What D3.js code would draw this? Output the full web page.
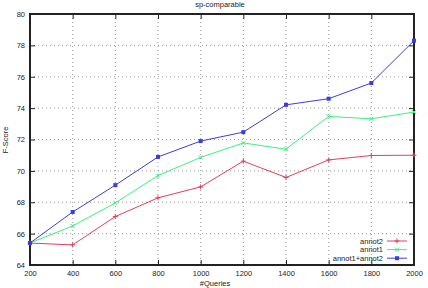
<!DOCTYPE html>
<html><head><meta charset="utf-8">
<script src="https://cdn.jsdelivr.net/npm/d3@7"></script>
<style>
body{margin:0;background:#fff;}
text{font-family:"Liberation Sans",sans-serif;font-size:7.5px;fill:#222;}
</style></head>
<body><svg id="c" width="428" height="288"></svg>
<script>
const queries = [200,400,600,800,1000,1200,1400,1600,1800,2000];
const annot2 = [65.4,65.28,67.09,68.28,68.98,70.62,69.58,70.7,70.98,71.0];
const annot1 = [65.4,66.49,67.96,69.7,70.86,71.78,71.38,73.47,73.32,73.75];
const annot12 = [65.4,67.38,69.09,70.89,71.9,72.47,74.21,74.6,75.6,78.3];
const yTicks = [64,66,68,70,72,74,76,78,80];
const seriesNames = ["annot2","annot1","annot1+annot2"];
const colors = ["#e0405a","#3cf07c","#3c3ce0"];

const svg = d3.select("#c");
const L=30,R=414,T=14,B=265;
const x = d3.scaleLinear().domain([200,2000]).range([L,R]);
const y = d3.scaleLinear().domain([64,80]).range([B,T]);

// grid
const g = svg.append("g");
g.selectAll(".gx").data(queries.slice(1,-1)).enter().append("line")
 .attr("x1",d=>x(d)).attr("x2",d=>x(d)).attr("y1",T).attr("y2",B)
 .attr("stroke","#999").attr("stroke-dasharray","1,3").attr("stroke-width",1);
g.selectAll(".gy").data(yTicks.slice(1,-1)).enter().append("line")
 .attr("y1",d=>y(d)).attr("y2",d=>y(d)).attr("x1",L).attr("x2",R)
 .attr("stroke","#999").attr("stroke-dasharray","1,3").attr("stroke-width",1);

// axes
const ax = svg.append("g").attr("transform",`translate(0,${B})`)
 .call(d3.axisBottom(x).tickValues(queries).tickFormat(d3.format("d")).tickSizeInner(-5).tickSizeOuter(0).tickPadding(6));
const axT = svg.append("g").attr("transform",`translate(0,${T})`)
 .call(d3.axisTop(x).tickValues(queries).tickFormat("").tickSizeInner(-5).tickSizeOuter(0));
const ay = svg.append("g").attr("transform",`translate(${L},0)`)
 .call(d3.axisLeft(y).tickValues(yTicks).tickFormat(d3.format("d")).tickSizeInner(-5).tickSizeOuter(0).tickPadding(5));
const ayR = svg.append("g").attr("transform",`translate(${R},0)`)
 .call(d3.axisRight(y).tickValues(yTicks).tickFormat("").tickSizeInner(-5).tickSizeOuter(0));
[ax,axT,ay,ayR].forEach(a=>{a.select(".domain").remove();a.selectAll("line").attr("stroke","#222");a.selectAll("text").style("font-family","Liberation Sans").style("font-size","7.5px").attr("fill","#333");});
svg.append("rect").attr("x",L).attr("y",T).attr("width",R-L).attr("height",B-T)
 .attr("fill","none").attr("stroke","#222").attr("stroke-width",2);

// series
const data=[annot2,annot1,annot12];
const line=d3.line().x((d,i)=>x(queries[i])).y(d=>y(d));
function marker(sel,k,cx,cy){
 if(k===0){sel.append("path").attr("d",`M${cx-2.5},${cy}H${cx+2.5}M${cx},${cy-2.5}V${cy+2.5}`).attr("stroke",colors[k]).attr("stroke-width",1);}
 else if(k===1){sel.append("path").attr("d",`M${cx-2},${cy-2}L${cx+2},${cy+2}M${cx-2},${cy+2}L${cx+2},${cy-2}`).attr("stroke",colors[k]).attr("stroke-width",1);}
 else {sel.append("rect").attr("x",cx-2).attr("y",cy-2).attr("width",4).attr("height",4).attr("fill",colors[k]);}
}
data.forEach((s,k)=>{
 svg.append("path").datum(s).attr("d",line).attr("fill","none").attr("stroke",colors[k]).attr("stroke-width",1);
 const mg=svg.append("g");
 s.forEach((v,i)=>marker(mg,k,x(queries[i]),y(v)));
});

// legend
seriesNames.forEach((n,k)=>{
 const ly=241+k*8.6;
 svg.append("text").attr("x",383).attr("y",ly+2.7).attr("text-anchor","end").text(n);
 svg.append("line").attr("x1",387).attr("x2",407).attr("y1",ly).attr("y2",ly).attr("stroke",colors[k]).attr("stroke-width",1);
 marker(svg,k,397,ly);
});

// titles
svg.append("text").attr("x",220).attr("y",7).attr("text-anchor","middle").text("sp-comparable");
svg.append("text").attr("x",215).attr("y",286).attr("text-anchor","middle").text("#Queries");
svg.append("text").attr("transform","translate(8,140) rotate(-90)").attr("text-anchor","middle").text("F-Score");
</script></body></html>
